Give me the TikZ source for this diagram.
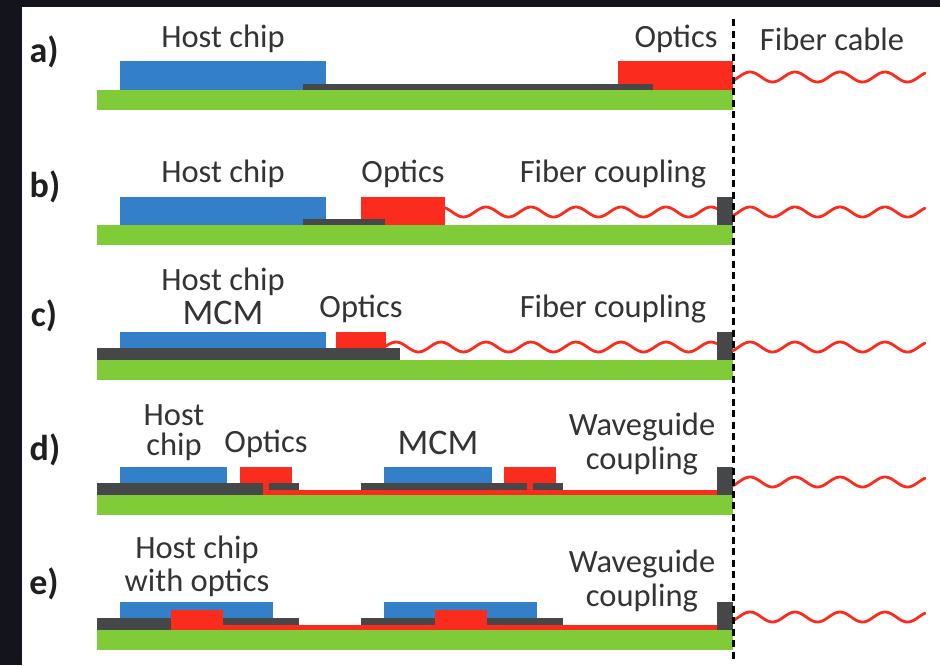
\documentclass[tikz,border=0pt]{standalone}
\usepackage{fontspec}
\setmainfont{Carlito}
\definecolor{bgdark}{HTML}{14151C}
\definecolor{chipblue}{HTML}{3380C8}
\definecolor{optred}{HTML}{FB2B1E}
\definecolor{boardgreen}{HTML}{80CC38}
\definecolor{pkgdark}{HTML}{464749}
\definecolor{txtdark}{HTML}{343436}
\tikzset{
  wave/.style={draw=optred,line width=2.8pt,line cap=round,line join=round},
  lbl/.style={font=\fontsize{32.5}{35}\selectfont,text=txtdark,align=center,inner sep=0pt},
  lblwide/.style={font=\fontsize{36}{38}\selectfont,text=txtdark,align=center,inner sep=0pt},
  tag/.style={font=\fontsize{36}{38}\selectfont\bfseries,text=txtdark!60!black,inner sep=0pt},
}
\newcommand{\bx}[5]{\fill[#1] (#2,#3) rectangle (#4,#5);}
% wave: from x1 to x2, centre y, first-peak x
\newcommand{\wv}[4]{\draw[wave] plot[domain=#1:#2,samples=120,smooth] (\x,{#3-5*cos(((\x-#4)/45)*360)});}
\begin{document}
\begin{tikzpicture}[x=1pt,y=-1pt]
\useasboundingbox (0,0) rectangle (940,665);
\fill[bgdark] (0,0) rectangle (940,665);
\fill[white] (22,7) rectangle (940,665);
% a
\bx{boardgreen}{97}{90}{733}{110}
\bx{chipblue}{120}{61}{326}{90}
\bx{optred}{618}{61}{733}{90}
\bx{pkgdark}{303}{84}{653}{90}
\wv{733}{925}{77}{750}
% b
\bx{boardgreen}{97}{225}{733}{245}
\bx{chipblue}{120}{197}{326}{225}
\bx{optred}{361}{197}{445}{225}
\bx{pkgdark}{303}{219}{385}{225}
\wv{445}{717}{212}{486}
\bx{pkgdark}{717}{197}{733}{225}
\wv{733}{925}{212}{750}
% c
\bx{boardgreen}{97}{360}{733}{380}
\bx{pkgdark}{97}{348}{400}{360}
\bx{chipblue}{120}{332}{326}{348}
\bx{optred}{336}{332}{386}{348}
\wv{386}{717}{347}{396}
\bx{pkgdark}{717}{332}{733}{360}
\wv{733}{925}{347}{750}
% d
\bx{boardgreen}{97}{495}{733}{515}
\bx{optred}{263}{490}{717}{495}
\bx{optred}{263}{483}{269}{495}
\bx{optred}{527}{483}{533}{495}
\bx{pkgdark}{97}{483}{263}{495}
\bx{pkgdark}{269}{483}{299}{490}
\bx{pkgdark}{361}{483}{527}{490}
\bx{pkgdark}{533}{483}{563}{490}
\bx{chipblue}{120}{467}{227}{483}
\bx{optred}{240}{467}{292}{483}
\bx{chipblue}{384}{467}{492}{483}
\bx{optred}{504}{467}{556}{483}
\bx{pkgdark}{717}{467}{733}{495}
\wv{733}{925}{482}{750}
% e
\bx{boardgreen}{97}{630}{733}{650}
\bx{optred}{223}{625}{717}{630}
\bx{chipblue}{120}{602}{273}{618}
\bx{chipblue}{384}{602}{537}{618}
\bx{pkgdark}{97}{618}{172}{630}
\bx{pkgdark}{223}{618}{299}{625}
\bx{pkgdark}{361}{618}{435}{625}
\bx{pkgdark}{487}{618}{563}{625}
\bx{optred}{171}{610}{223}{630}
\bx{optred}{435}{610}{487}{630}
\bx{pkgdark}{717}{602}{733}{630}
\wv{733}{925}{617}{750}
% divider
\draw[black,line width=2.6pt,dash pattern=on 7pt off 4.5pt] (733.5,19) -- (733.5,660);
% labels
\node[tag] (la) at (44,52) {a)};
\node[tag] (lb) at (45,187) {b)};
\node[tag] (lc) at (44,316) {c)};
\node[tag] (ld) at (45,450) {d)};
\node[tag] (le) at (44,584) {e)};
\node[lbl] (a1) at (223,39) {Host chip};
\node[lbl] (a2) at (676,39) {Optics};
\node[lbl] (a3) at (832,39) {Fiber cable};
\node[lbl] (b1) at (223,174) {Host chip};
\node[lbl] (b2) at (403,174) {Optics};
\node[lbl] (b3) at (613,174) {Fiber coupling};
\node[lbl] (c1) at (223,282) {Host chip};
\node[lblwide] (c2) at (223,313) {MCM};
\node[lbl] (c3) at (361,309) {Optics};
\node[lbl] (c4) at (613,309) {Fiber coupling};
\node[lbl] (d1) at (174,415) {Host};
\node[lbl] (d2) at (174,447) {chip};
\node[lbl] (d3) at (266,444) {Optics};
\node[lblwide] (d4) at (438,443) {MCM};
\node[lbl] (d5) at (642,427) {Waveguide};
\node[lbl] (d6) at (642,461) {coupling};
\node[lbl] (e1) at (197,550) {Host chip};
\node[lbl] (e2) at (197,583) {with optics};
\node[lbl] (e3) at (642,564) {Waveguide};
\node[lbl] (e4) at (642,598) {coupling};
\end{tikzpicture}
\end{document}
